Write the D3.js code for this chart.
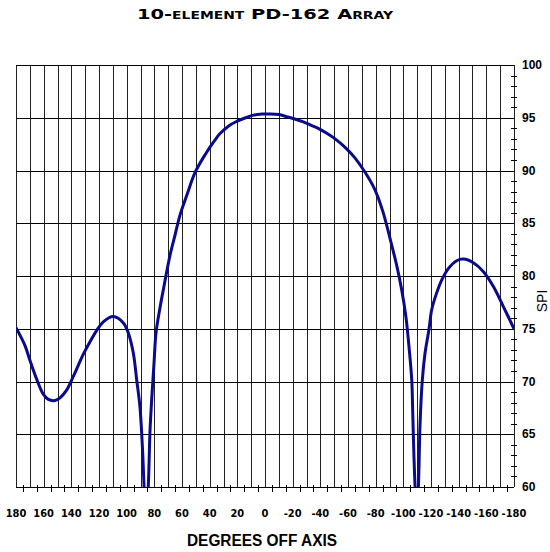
<!DOCTYPE html>
<html>
<head>
<meta charset="utf-8">
<script src="https://cdn.jsdelivr.net/npm/d3@7"></script>
<style>
  html, body { margin: 0; padding: 0; background: #fff; }
  svg { display: block; }
</style>
</head>
<body>
<div id="chart"></div>
<script>
// degrees off axis (left to right)
var degrees = [180, 173.5, 169.9, 165, 160.3, 156.6, 151.8, 148.2, 143.3, 138.5, 131.3, 126.4, 121.6, 116.9,
    109.7, 102.4, 98.8, 95.2, 92.7, 90.4, 88.4, 87.4, 85.9, 84.4, 83.1, 81.9, 80.2, 78.8, 75.9, 73.5,
    68.6, 65, 61.4, 56.4, 50.6, 43.3, 36.1, 32.5, 26, 20.5, 14, 8.45, 2, -3.6, -10, -15.7, -21, -27.7, -33, -39.8,
    -45, -50.7, -57.9, -65, -72, -79, -85, -90.5, -95.2, -98.8, -101.9, -104.3, -106.1, -106.8, -107.7,
    -108.5, -109.6, -110.9, -112.1, -113.7, -115.7, -118.6, -120.5, -124.1, -127.7, -132.5, -138.6, -143.4,
    -150.6, -157.9, -165.1, -172.3, -180];
var spi = [75.1, 73.4, 72.0, 70.2, 68.8, 68.3, 68.2, 68.45, 69.2, 70.5, 72.6, 73.8, 74.85, 75.65,
    76.15, 75.55, 74.6, 72.7, 70.1, 67.6, 63.2, 60, 57, 60, 65.4, 68.3, 71.8, 74.6, 77.0, 78.7,
    82.0, 83.9, 85.8, 87.7, 89.8, 91.5, 92.9, 93.5, 94.25, 94.65, 95.0, 95.25, 95.35, 95.36, 95.3, 95.1, 94.9, 94.6, 94.3, 93.9,
    93.5, 93.0, 92.2, 91.2, 89.9, 88.3, 86.2, 83.5, 81.0, 78.7, 76.1, 73.0, 70.1, 67.0, 62.8,
    60, 57, 60, 66.0, 70.1, 72.7, 75.0, 76.8, 78.4, 79.6, 80.7, 81.45, 81.6,
    81.25, 80.4, 79.0, 77.1, 75.0];

var xLabels = [180, 160, 140, 120, 100, 80, 60, 40, 20, 0, -20, -40, -60, -80, -100, -120, -140, -160, -180];
var yLabels = [60, 65, 70, 75, 80, 85, 90, 95, 100];

var title = '10-element PD-162 Array';
var xTitle = 'DEGREES OFF AXIS';
var yTitle = 'SPI';

var width = 550, height = 552;
var plotLeft = 16, plotRight = 514, plotTop = 65, plotBottom = 487;

var svg = d3.select('#chart').append('svg')
    .attr('width', width)
    .attr('height', height);

var x = d3.scaleLinear().domain([180, -180]).range([plotLeft, plotRight]);
var y = d3.scaleLinear().domain([60, 100]).range([plotBottom, plotTop]);

svg.append('defs').append('clipPath')
    .attr('id', 'plot')
    .append('rect')
    .attr('x', plotLeft)
    .attr('y', plotTop)
    .attr('width', plotRight - plotLeft)
    .attr('height', plotBottom - plotTop);

/* vertical grid every 10 degrees */
var grid = svg.append('g').attr('shape-rendering', 'crispEdges');
grid.selectAll('line.v')
    .data(d3.range(180, -181, -10))
    .enter().append('line')
    .attr('class', 'v')
    .attr('x1', function(d) { return Math.round(x(d)) + 0.5; })
    .attr('x2', function(d) { return Math.round(x(d)) + 0.5; })
    .attr('y1', plotTop)
    .attr('y2', plotBottom)
    .attr('stroke', '#222');

/* horizontal grid every 5 */
grid.selectAll('line.h')
    .data(yLabels)
    .enter().append('line')
    .attr('class', 'h')
    .attr('x1', plotLeft)
    .attr('x2', plotRight)
    .attr('y1', function(d) { return Math.round(y(d)) + 0.5; })
    .attr('y2', function(d) { return Math.round(y(d)) + 0.5; })
    .attr('stroke', '#000');

/* bottom minor ticks, half way between grid lines */
grid.selectAll('line.bt')
    .data(d3.range(175, -180, -10))
    .enter().append('line')
    .attr('class', 'bt')
    .attr('x1', function(d) { return Math.round(x(d)) + 0.5; })
    .attr('x2', function(d) { return Math.round(x(d)) + 0.5; })
    .attr('y1', plotBottom - 2)
    .attr('y2', plotBottom + 5)
    .attr('stroke', '#000');

/* right axis minor ticks, one per unit */
grid.selectAll('line.rt')
    .data(d3.range(61, 100).filter(function(d) { return d % 5 !== 0; }))
    .enter().append('line')
    .attr('class', 'rt')
    .attr('x1', plotRight - 3)
    .attr('x2', plotRight + 3)
    .attr('y1', function(d) { return Math.round(y(d)) + 0.5; })
    .attr('y2', function(d) { return Math.round(y(d)) + 0.5; })
    .attr('stroke', '#000');

/* the pattern */
var line = d3.line()
    .x(function(d, i) { return x(degrees[i]); })
    .y(function(d) { return y(d); })
    .curve(d3.curveCatmullRom.alpha(0.5));

svg.append('path')
    .datum(spi)
    .attr('clip-path', 'url(#plot)')
    .attr('d', line)
    .attr('fill', 'none')
    .attr('stroke', '#0a0a8c')
    .attr('stroke-width', 3)
    .attr('stroke-linejoin', 'round');

/* tick labels */
svg.selectAll('text.xl')
    .data(xLabels)
    .enter().append('text')
    .attr('class', 'xl')
    .attr('x', function(d) { return x(d); })
    .attr('y', 517)
    .attr('text-anchor', 'middle')
    .style('font-family', '"Liberation Sans Narrow", "Arial Narrow", "DejaVu Sans Condensed", sans-serif')
    .style('font-weight', 'bold')
    .style('font-size', '11px')
    .text(function(d) { return d; });

svg.selectAll('text.yl')
    .data(yLabels)
    .enter().append('text')
    .attr('class', 'yl')
    .attr('x', 522)
    .attr('y', function(d) { return y(d) + 4; })
    .style('font-family', '"Liberation Sans", Arial, sans-serif')
    .style('font-weight', 'bold')
    .style('font-size', '12px')
    .text(function(d) { return d; });

/* titles */
svg.append('text')
    .attr('x', 265)
    .attr('y', 19)
    .attr('text-anchor', 'middle')
    .attr('textLength', 256)
    .attr('lengthAdjust', 'spacingAndGlyphs')
    .style('font-family', '"DejaVu Sans", sans-serif')
    .style('font-weight', 'bold')
    .style('font-variant', 'small-caps')
    .style('font-size', '14px')
    .text(title);

svg.append('text')
    .attr('x', 262)
    .attr('y', 546)
    .attr('text-anchor', 'middle')
    .attr('textLength', 150)
    .attr('lengthAdjust', 'spacingAndGlyphs')
    .style('font-family', '"Liberation Sans", Arial, sans-serif')
    .style('font-weight', 'bold')
    .style('font-size', '16px')
    .text(xTitle);

svg.append('text')
    .attr('transform', 'translate(547,301) rotate(-90)')
    .attr('text-anchor', 'middle')
    .style('font-family', '"Liberation Sans", Arial, sans-serif')
    .style('font-size', '14px')
    .text(yTitle);
</script>
</body>
</html>
